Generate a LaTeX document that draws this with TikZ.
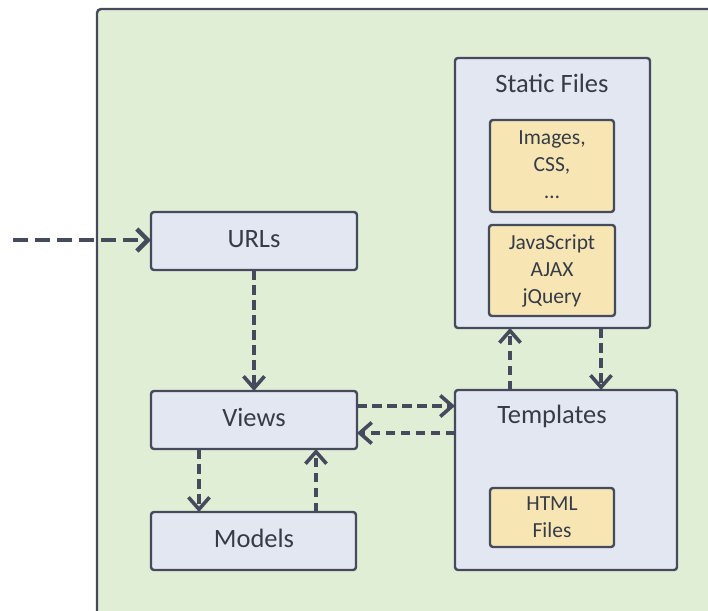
\documentclass[tikz,border=0pt]{standalone}
\usepackage{fontspec}
\setmainfont{Carlito}
\usetikzlibrary{arrows.meta}
\definecolor{ink}{HTML}{454B5C}
\definecolor{label}{HTML}{363B48}
\definecolor{zone}{HTML}{E1EED6}
\definecolor{boxfill}{HTML}{E3E7F1}
\definecolor{filefill}{HTML}{F7E6B3}
\tikzset{
  part/.style={draw=ink, line width=2.4pt, fill=boxfill, rounded corners=3pt},
  filebox/.style={draw=ink, line width=2.4pt, fill=filefill, rounded corners=3pt},
  big/.style={font=\fontsize{26.5}{30}\selectfont, text=label},
  small/.style={font=\fontsize{21.5}{27}\selectfont, text=label, align=center},
  flow/.style={draw=ink, line width=3.6pt, dash pattern=on 9.5pt off 5.5pt,
    -{Straight Barb[length=12pt, width=21pt, line width=3.6pt]}},
  entry/.style={draw=ink, line width=4.5pt, dash pattern=on 15pt off 7pt,
    -{Straight Barb[length=11pt, width=22pt, line width=4.5pt]}},
}
\begin{document}
\begin{tikzpicture}[x=1pt, y=-1pt]
  \useasboundingbox (0,0) rectangle (708,610);
  \begin{scope}
    \clip (0,0) rectangle (708,610);
    % application area
    \draw[draw=ink, line width=2.4pt, fill=zone, rounded corners=4pt] (97,9) rectangle (730,640);
  \end{scope}

  % left column
  \draw[part] (151,212) rectangle (357,270);
  \node[big] (urls) at (254,239) {URLs};
  \draw[part] (151,391) rectangle (357,449);
  \node[big] (views) at (254,417) {Views};
  \draw[part] (151,512) rectangle (356,570);
  \node[big] (models) at (254,538) {Models};

  % static files
  \draw[part] (455,58) rectangle (650,328);
  \node[big] (static) at (552,83) {Static Files};
  \draw[filebox] (490,120) rectangle (614,212);
  \node[small] (img) at (552,165) {Images,\\CSS,\\\dots};
  \draw[filebox] (489,225) rectangle (615,316);
  \node[small] (js) at (552,271) {JavaScript\\AJAX\\jQuery};

  % templates
  \draw[part] (455,390) rectangle (677,570);
  \node[big] (tpl) at (552,416) {Templates};
  \draw[filebox] (490,488) rectangle (614,547);
  \node[small] (html) at (552,517.5) {HTML\\Files};

  % connector end points on the box edges
  \coordinate (inStart) at (13,240);
  \coordinate (urlsL) at (151,240);
  \coordinate (urlsB) at (254,270);
  \coordinate (viewsT) at (254,391);
  \coordinate (viewsBL) at (199,449);
  \coordinate (modelsTL) at (199,512);
  \coordinate (modelsTR) at (316,512);
  \coordinate (viewsBR) at (316,449);
  \coordinate (viewsR1) at (357,406);
  \coordinate (viewsR2) at (357,433);
  \coordinate (tplL1) at (455,406);
  \coordinate (tplL2) at (455,433);
  \coordinate (tplT1) at (510,390);
  \coordinate (tplT2) at (601,390);
  \coordinate (staticB1) at (510,328);
  \coordinate (staticB2) at (601,328);

  % connectors
  \draw[entry] (inStart) -- (urlsL);
  \draw[flow] (urlsB) -- (viewsT);
  \draw[flow] (viewsBL) -- (modelsTL);
  \draw[flow] (modelsTR) -- (viewsBR);
  \draw[flow] (viewsR1) -- (tplL1);
  \draw[flow] (tplL2) -- (viewsR2);
  \draw[flow] (tplT1) -- (staticB1);
  \draw[flow] (staticB2) -- (tplT2);
\end{tikzpicture}
\end{document}
